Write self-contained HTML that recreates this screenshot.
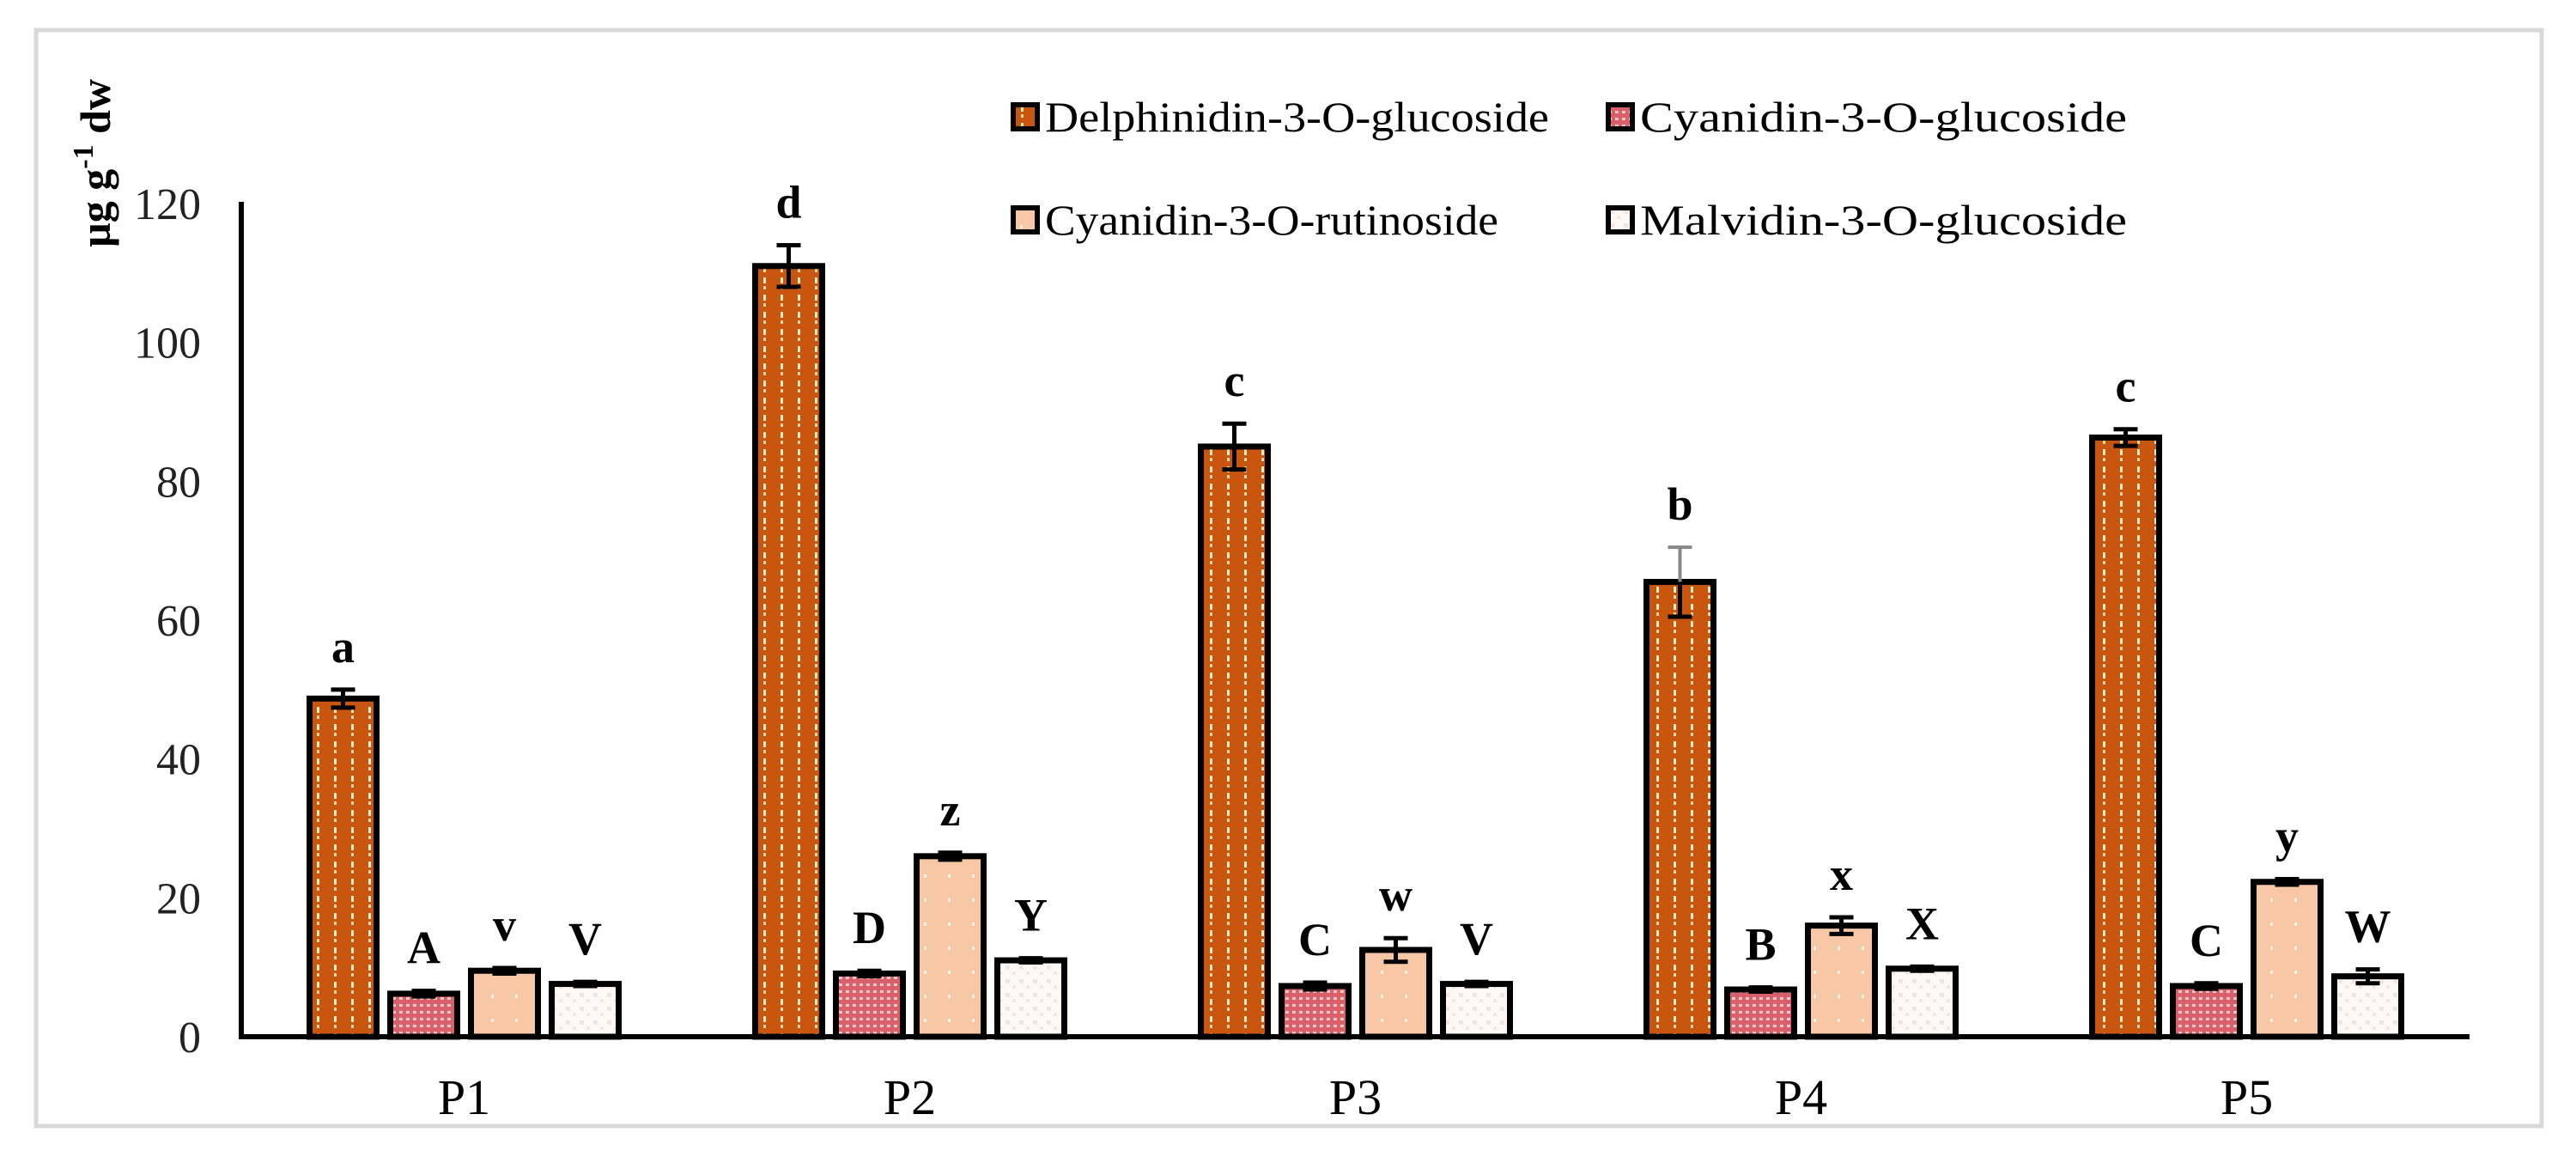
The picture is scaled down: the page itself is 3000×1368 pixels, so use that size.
<!DOCTYPE html>
<html><head><meta charset="utf-8"><style>
html,body{margin:0;padding:0;background:#fff;}
svg{display:block;font-family:"Liberation Serif",serif;}
</style></head><body>
<svg id="chart" width="3000" height="1368" viewBox="0 0 3000 1368" xmlns="http://www.w3.org/2000/svg">
<defs>
<pattern id="pD" width="20" height="20" patternUnits="userSpaceOnUse"><rect width="20" height="20" fill="#c9560e"/><rect x="9" y="3" width="3" height="7" fill="#ffe9c0"/><rect x="9" y="13" width="3" height="4" fill="#ffd9a0"/></pattern>
<pattern id="pC" width="8" height="8" patternUnits="userSpaceOnUse"><rect width="8" height="8" fill="#d9606a"/><rect x="1" y="1" width="4" height="3" fill="#f6c8c8"/></pattern>
<pattern id="pR" width="28" height="28" patternUnits="userSpaceOnUse"><rect width="28" height="28" fill="#f8c7a6"/><rect x="12" y="10" width="3" height="4" fill="#fff1e6"/></pattern>
<pattern id="pM" width="16" height="16" patternUnits="userSpaceOnUse"><rect width="16" height="16" fill="#fdf8f4"/><rect x="3" y="4" width="5" height="5" fill="#f3e6de"/><rect x="11" y="11" width="4" height="4" fill="#f3e6de"/></pattern>
</defs>
<rect x="42" y="35" width="2918" height="1276" fill="#fff" stroke="#d9d9d9" stroke-width="5"/>
<g id="plot"></g>
</svg>
<script>
const categories = ["P1","P2","P3","P4","P5"];
const seriesNames = ["Delphinidin-3-O-glucoside","Cyanidin-3-O-glucoside","Cyanidin-3-O-rutinoside","Malvidin-3-O-glucoside"];
const delphinidin = [48.7, 111, 85, 65.5, 86.3];
const cyanidinGlc = [6.2, 9.1, 7.3, 6.8, 7.3];
const cyanidinRut = [9.5, 26, 12.5, 16, 22.3];
const malvidin = [7.6, 11, 7.6, 9.8, 8.7];
const errDelph = [1.3, 3, 3.3, 5, 1.2];
const errCyGlc = [0.4, 0.4, 0.5, 0.3, 0.4];
const errCyRut = [0.4, 0.5, 1.7, 1.2, 0.4];
const errMalv = [0.3, 0.3, 0.3, 0.3, 1.0];
const lettersDelph = ["a","d","c","b","c"];
const lettersCyGlc = ["A","D","C","B","C"];
const lettersCyRut = ["v","z","w","x","y"];
const lettersMalv = ["V","Y","V","X","W"];
const yTicks = [0,20,40,60,80,100,120];

const NS="http://www.w3.org/2000/svg";
const g=document.getElementById('plot');
const X0=281, X1=2876, Y0=1207, Y120=237;
const yScale=v=>Y0-(v/120)*(Y0-Y120);
const catW=(X1-X0)/categories.length;
const barW=78, step=94;
const xBar=(ci,si)=>X0+catW*ci+catW/2-(3*step+barW)/2+si*step;
function mk(t,a,txt){const e=document.createElementNS(NS,t);for(const k in a)e.setAttribute(k,a[k]);if(txt!=null)e.textContent=txt;g.appendChild(e);return e;}

yTicks.forEach(v=>{
  const t=mk('text',{x:234,y:yScale(v)+18,'text-anchor':'end','font-size':52,fill:'#222'},String(v));
  
  
});
const yt=mk('text',{x:0,y:0,transform:'translate(128,190) rotate(-90)','text-anchor':'middle','font-size':50,'font-weight':'bold'});


yt.innerHTML='µg g<tspan dy="-20" font-size="34">-1</tspan><tspan dy="20">  dw</tspan>';

const series=[delphinidin,cyanidinGlc,cyanidinRut,malvidin];
const errs=[errDelph,errCyGlc,errCyRut,errMalv];
const letters=[lettersDelph,lettersCyGlc,lettersCyRut,lettersMalv];
const fills=['url(#pD)','url(#pC)','url(#pR)','url(#pM)'];
series.forEach((arr,si)=>{
  arr.forEach((v,ci)=>{
    const x=xBar(ci,si), y=yScale(v);
    const r=mk('rect',{x:x,y:y,width:barW,height:Y0-y,fill:fills[si],stroke:'#000','stroke-width':7});
    
    
    const cx=x+barW/2, e=errs[si][ci], yt2=yScale(v+e), yb=yScale(v-e);
    const col=(si===0&&ci===3)?'#888':'#000';
    const eb=mk('path',{d:`M${cx},${yt2}V${yb}M${cx-14},${yt2}H${cx+14}M${cx-14},${yb}H${cx+14}`,stroke:'#000','stroke-width':5,fill:'none'});
    
    
    if(col!=='#000'){eb.setAttribute('d',`M${cx},${yScale(v)}V${yb}M${cx-14},${yb}H${cx+14}`);const e2=mk('path',{d:`M${cx},${yt2}V${yScale(v)}M${cx-14},${yt2}H${cx+14}`,stroke:col,'stroke-width':4,fill:'none'});}
    const l=mk('text',{x:cx,y:yt2-32,'text-anchor':'middle','font-size':54,'font-weight':'bold'},letters[si][ci]);
    
    
  });
});
const ya=mk('line',{x1:X0,y1:Y120-2,x2:X0,y2:Y0+3,stroke:'#000','stroke-width':6});


const xa=mk('line',{x1:X0-3,y1:Y0,x2:X1,y2:Y0,stroke:'#000','stroke-width':6});


categories.forEach((c,ci)=>{
  const t=mk('text',{x:X0+catW*ci+catW/2,y:1297,'text-anchor':'middle','font-size':58},c);
  
  
});
const legPos=[[1177,136],[1870,136],[1177,256],[1870,256]];
const legLen=[587,567,528,567];
seriesNames.forEach((n,si)=>{
  const [lx,ly]=legPos[si];
  const b=mk('rect',{x:lx+3,y:ly-14,width:28,height:28,fill:fills[si],stroke:'#000','stroke-width':6});
  
  
  const t=mk('text',{x:lx+40,y:ly+17,'font-size':50,textLength:legLen[si],lengthAdjust:'spacingAndGlyphs'},n);
  
  
});
</script>
</body></html>
